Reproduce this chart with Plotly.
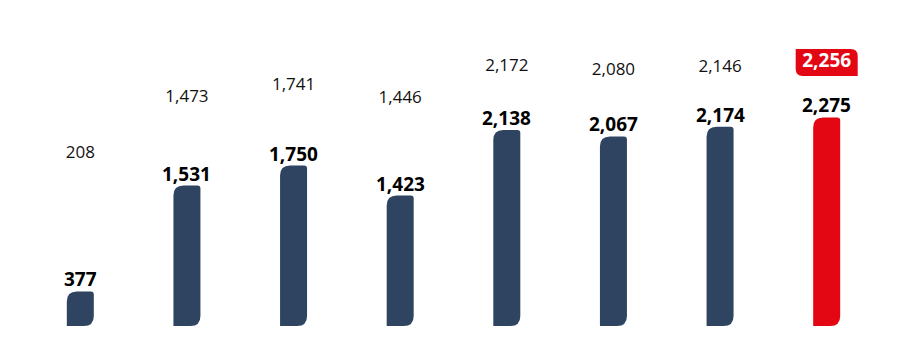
import plotly.graph_objects as go

# ---- data ----
categories = ["P1", "P2", "P3", "P4", "P5", "P6", "P7", "P8"]
bar_values = [377, 1531, 1750, 1423, 2138, 2067, 2174, 2275]
upper_values = [208, 1473, 1741, 1446, 2172, 2080, 2146, 2256]

# ---- style / layout constants ----
W, H = 902, 352
ML, MR, MT, MB = 27, 22, 0, 26
PLOT_H = H - MT - MB
Y_MAX = 3555
Y2_RANGE = [-3663, 3663]
NAVY = "#2e4461"
RED = "#e30613"
FONT = "Open Sans"

px_per_unit = PLOT_H / Y_MAX
x_pos = list(range(len(categories)))

fig = go.Figure()

# bars as leaf-shaped paths (x in pixels around category anchor, y in data units)
HW = 13.5      # half bar width, px
R_BIG = 10     # px
R_SMALL = 3    # px
shapes = []
for i, v in enumerate(bar_values):
    color = RED if i == len(bar_values) - 1 else NAVY
    ryb = R_BIG / px_per_unit
    rys = R_SMALL / px_per_unit
    x0, x1 = -HW, HW
    path = (
        f"M {x0},0 L {x1 - R_BIG},0 Q {x1},0 {x1},{ryb} "
        f"L {x1},{v - rys} Q {x1},{v} {x1 - R_SMALL},{v} "
        f"L {x0 + R_BIG},{v} Q {x0},{v} {x0},{v - ryb} Z"
    )
    shapes.append(dict(
        type="path", path=path, xref="x", yref="y",
        xsizemode="pixel", xanchor=i,
        fillcolor=color, line=dict(width=0), layer="below",
    ))

# highlight box behind the last upper label
BW, BH, BR = 31, 13.5, 7
last = len(upper_values) - 1
box_path = (
    f"M {-BW},{BH} L {BW - BR},{BH} Q {BW},{BH} {BW},{BH - BR} "
    f"L {BW},{-BH} L {-BW + BR},{-BH} Q {-BW},{-BH} {-BW},{-BH + BR} Z"
)
shapes.append(dict(
    type="path", path=box_path, xref="x", yref="y2",
    xsizemode="pixel", ysizemode="pixel", xanchor=last, yanchor=upper_values[last],
    fillcolor=RED, line=dict(width=0), layer="below",
))

# bold labels above bars (annotations anchored at bar tops)
annotations = []
for i, v in enumerate(bar_values):
    annotations.append(dict(
        x=i, y=v, xref="x", yref="y", text=f"{v:,}", showarrow=False,
        xanchor="center", yanchor="bottom", yshift=-3,
        font=dict(family=FONT, size=19, color="#000000", weight="bold"),
    ))

# upper (secondary) labels
upper_colors = ["#111111"] * (len(upper_values) - 1) + ["#ffffff"]
upper_sizes = [17] * (len(upper_values) - 1) + [19]
upper_weights = ["normal"] * (len(upper_values) - 1) + ["bold"]
fig.add_trace(go.Scatter(
    x=x_pos, y=upper_values, mode="text", yaxis="y2",
    text=[f"{v:,}" for v in upper_values], textposition="middle center",
    textfont=dict(family=FONT, size=upper_sizes, color=upper_colors, weight=upper_weights),
    hoverinfo="skip", showlegend=False,
))

fig.update_layout(
    width=W, height=H,
    margin=dict(l=ML, r=MR, t=MT, b=MB, pad=0),
    paper_bgcolor="white", plot_bgcolor="white",
    shapes=shapes, annotations=annotations,
    xaxis=dict(range=[-0.5, len(categories) - 0.5], visible=False, fixedrange=True),
    yaxis=dict(range=[0, Y_MAX], visible=False, fixedrange=True),
    yaxis2=dict(range=Y2_RANGE, visible=False, overlaying="y", fixedrange=True),
    showlegend=False,
    font=dict(family=FONT),
)

fig.write_html("out.html", config={"displayModeBar": False})
